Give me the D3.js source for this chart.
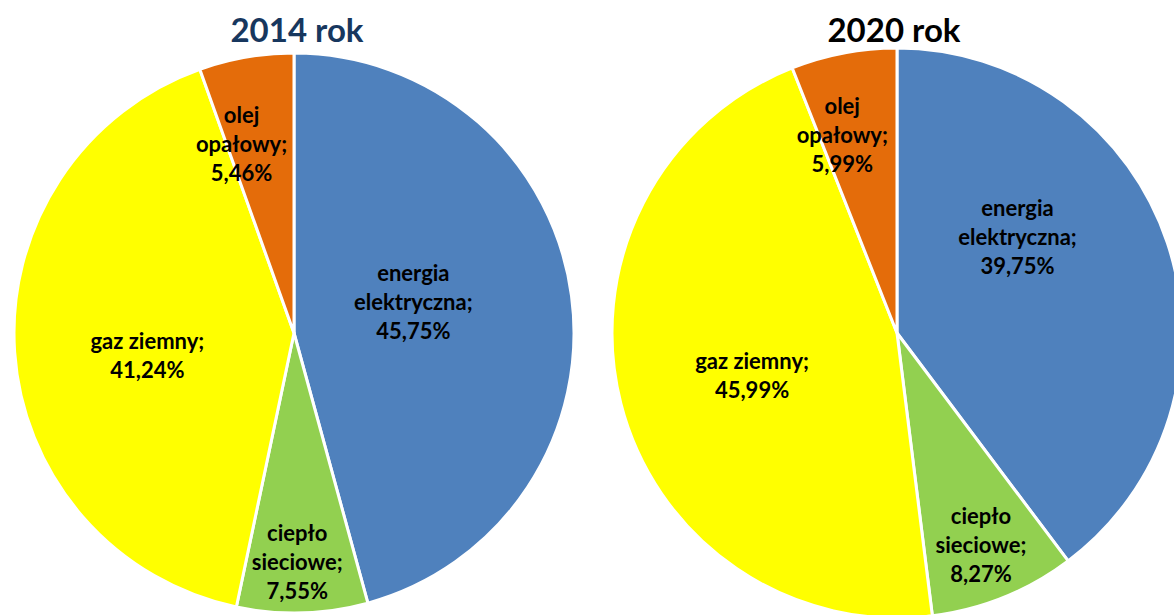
<!DOCTYPE html>
<html lang="pl">
<head>
<meta charset="utf-8">
<script src="https://cdn.jsdelivr.net/npm/d3@7"></script>
<style>
  html, body { margin: 0; padding: 0; background: #fff; }
  svg { display: block; }
  .title { font-family: Lato, "Open Sans", sans-serif; font-weight: 700; }
  .lbl { font-family: Lato, "Open Sans", sans-serif; font-weight: 700; fill: #000; }
</style>
</head>
<body>
<svg id="chart" width="1174" height="615"></svg>
<script>
// Struktura zużycia energii według nośnika
const categories = ["energia elektryczna", "ciepło sieciowe", "gaz ziemny", "olej opałowy"];
const colors = ["#4F81BD", "#92D050", "#FFFF00", "#E46C0A"];
const years = ["2014 rok", "2020 rok"];
const values2014 = [45.75, 7.55, 41.24, 5.46];
const values2020 = [39.75, 8.27, 45.99, 5.99];

// Placement of each pie and its labels (radius fraction, angle nudge in degrees)
const layouts = [
  { cx: 294, cy: 333, r: 280, titleX: 297, titleColor: "#17375E",
    labelPos: [[0.44, -6.7], [0.82, 0.9], [0.53, -5], [0.70, -5.7]] },
  { cx: 897, cy: 333, r: 285, titleX: 894, titleColor: "#000000",
    labelPos: [[0.54, -20], [0.80, 0.4], [0.53, -2], [0.72, -4.7]] }
];

const plLocale = d3.formatLocale({ decimal: ",", thousands: " ", grouping: [3], currency: ["", " zł"] });
const fmt = plLocale.format(".2f");

const svg = d3.select("#chart");
const pie = d3.pie().sort(null).value(d => d.value);
const lineH = 29;
const maxW = 130;

[values2014, values2020].forEach((vals, i) => {
  const L = layouts[i];
  const data = categories.map((c, k) => ({ name: c, value: vals[k], color: colors[k] }));
  const arcs = pie(data);
  const arc = d3.arc().innerRadius(0).outerRadius(L.r);

  const g = svg.append("g").attr("transform", `translate(${L.cx},${L.cy})`);

  g.selectAll("path.slice")
    .data(arcs)
    .join("path")
    .attr("class", "slice")
    .attr("d", arc)
    .attr("fill", d => d.data.color)
    .attr("stroke", "#fff")
    .attr("stroke-width", 3)
    .attr("stroke-linejoin", "round");

  arcs.forEach((a, k) => {
    const [frac, nudge] = L.labelPos[k];
    const ang = (a.startAngle + a.endAngle) / 2 + nudge * Math.PI / 180;
    const rr = frac * L.r;
    const x = rr * Math.sin(ang);
    const y = -rr * Math.cos(ang);

    const t = g.append("text").attr("class", "lbl").attr("font-size", 22)
      .attr("text-anchor", "middle");

    // wrap the category name when it is too wide for one line
    const probe = t.append("tspan").text(a.data.name + ";");
    let lines;
    if (probe.node().getComputedTextLength() > maxW) {
      lines = a.data.name.split(" ");
      lines[lines.length - 1] += ";";
    } else {
      lines = [a.data.name + ";"];
    }
    probe.remove();
    lines.push(fmt(a.data.value) + "%");

    const y0 = y - (lines.length - 1) * lineH / 2;
    lines.forEach((ln, j) => {
      t.append("tspan")
        .attr("x", x)
        .attr("y", y0 + j * lineH)
        .attr("dy", "0.35em")
        .text(ln);
    });
  });

  svg.append("text")
    .attr("class", "title")
    .attr("x", L.titleX)
    .attr("y", 42)
    .attr("text-anchor", "middle")
    .attr("font-size", 33)
    .attr("fill", L.titleColor)
    .text(years[i]);
});
</script>
</body>
</html>
